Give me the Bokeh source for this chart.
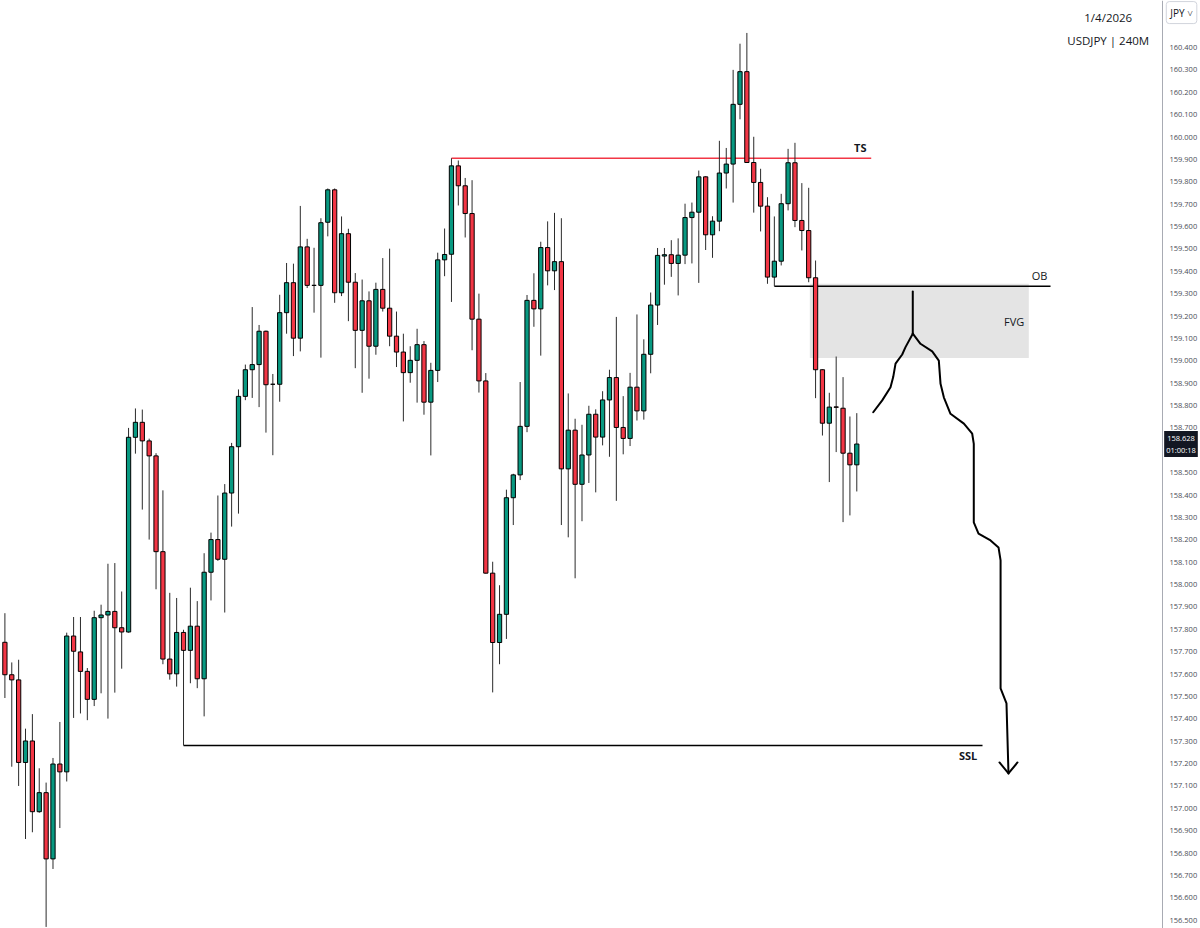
from bokeh.plotting import figure
from bokeh.models import (Range1d, FixedTicker, Label, NumeralTickFormatter, ColumnDataSource,
                          LinearAxis)
from bokeh.embed import file_html
from bokeh.resources import INLINE

# ---- candle data (USDJPY 240M) ----
opens = [157.742, 157.597, 157.574, 157.205, 157.301, 156.985, 157.070, 156.774, 157.198, 157.163,
         157.770, 157.699, 157.612, 157.487, 157.852, 157.864, 157.880, 157.807, 157.788, 158.658,
         158.725, 158.642, 158.575, 158.147, 157.667, 157.601, 157.786, 157.706, 157.814, 157.579,
         158.055, 158.201, 158.113, 158.409, 158.616, 158.841, 158.960, 158.983, 159.132, 158.895,
         158.895, 159.215, 159.349, 159.101, 159.509, 159.337, 159.337, 159.619, 159.764, 159.304,
         159.568, 159.351, 159.136, 159.268, 159.065, 159.319, 159.235, 159.110, 159.039, 158.947,
         159.002, 159.072, 158.815, 158.957, 159.451, 159.476, 159.871, 159.782, 159.658, 159.186,
         158.910, 158.051, 157.741, 157.867, 158.388, 158.490, 158.707, 159.270, 159.232, 159.506,
         159.402, 159.443, 158.517, 158.690, 158.448, 158.579, 158.761, 158.659, 158.825, 158.925,
         158.702, 158.653, 158.882, 158.776, 159.029, 159.249, 159.468, 159.474, 159.435, 159.472,
         159.640, 159.664, 159.822, 159.563, 159.624, 159.839, 159.879, 160.146, 160.292, 159.886,
         159.797, 159.691, 159.374, 159.445, 159.702, 159.885, 159.627, 159.582, 159.371, 158.960,
         158.721, 158.794, 158.788, 158.587, 158.535]
highs = [157.872, 157.652, 157.664, 157.356, 157.421, 157.179, 157.115, 157.225, 157.386, 157.785,
         157.855, 157.855, 157.627, 157.883, 157.910, 158.093, 158.096, 157.969, 158.700, 158.787,
         158.782, 158.652, 158.587, 158.421, 157.963, 157.940, 157.798, 157.986, 157.926, 158.140,
         158.232, 158.398, 158.449, 158.633, 158.872, 158.983, 159.240, 159.160, 159.135, 158.941,
         159.295, 159.437, 159.434, 159.692, 159.545, 159.505, 159.637, 159.770, 159.770, 159.645,
         159.590, 159.392, 159.363, 159.310, 159.349, 159.459, 159.501, 159.220, 159.121, 159.065,
         159.143, 159.088, 158.991, 159.483, 159.591, 159.905, 159.895, 159.817, 159.807, 159.300,
         158.945, 158.102, 157.997, 158.424, 158.495, 158.905, 159.294, 159.391, 159.532, 159.623,
         159.661, 159.637, 158.854, 158.741, 158.714, 158.799, 158.783, 158.864, 158.960, 159.196,
         158.842, 158.946, 159.207, 159.096, 159.305, 159.504, 159.504, 159.539, 159.547, 159.702,
         159.707, 159.850, 159.825, 159.646, 159.983, 159.951, 160.300, 160.417, 160.465, 160.001,
         159.858, 159.731, 159.645, 159.746, 159.947, 159.974, 159.794, 159.773, 159.448, 158.962,
         158.857, 159.019, 158.927, 158.751, 158.766]
lows = [157.493, 157.186, 157.100, 156.863, 156.893, 156.980, 156.470, 156.729, 156.912, 157.120,
        157.404, 157.424, 157.394, 157.457, 157.514, 157.401, 157.517, 157.624, 157.785, 158.585,
        158.335, 158.201, 157.979, 157.644, 157.575, 157.544, 157.281, 157.559, 157.537, 157.411,
        157.929, 158.106, 157.875, 158.259, 158.317, 158.824, 158.834, 158.793, 158.679, 158.578,
        158.817, 159.121, 159.021, 159.042, 159.325, 159.215, 159.014, 159.556, 159.259, 159.289,
        159.177, 158.967, 158.857, 158.920, 159.027, 159.220, 159.065, 158.972, 158.729, 158.902,
        158.813, 158.759, 158.577, 158.905, 159.378, 159.263, 159.694, 159.551, 159.047, 158.858,
        158.049, 157.518, 157.644, 157.757, 158.266, 158.467, 158.681, 159.152, 159.023, 159.337,
        159.316, 158.266, 158.211, 158.028, 158.283, 158.454, 158.412, 158.622, 158.571, 158.374,
        158.582, 158.619, 158.733, 158.737, 158.944, 159.160, 159.340, 159.375, 159.292, 159.432,
        159.435, 159.348, 159.495, 159.460, 159.579, 159.770, 159.707, 160.079, 159.884, 159.662,
        159.578, 159.344, 159.333, 159.426, 159.672, 159.597, 159.493, 159.351, 158.833, 158.666,
        158.458, 158.592, 158.279, 158.309, 158.416]
closes = [157.597, 157.574, 157.205, 157.301, 156.985, 157.070, 156.774, 157.198, 157.163, 157.770,
          157.702, 157.612, 157.487, 157.852, 157.864, 157.880, 157.807, 157.788, 158.658, 158.725,
          158.642, 158.575, 158.147, 157.667, 157.601, 157.786, 157.706, 157.814, 157.579, 158.055,
          158.201, 158.113, 158.409, 158.616, 158.841, 158.960, 158.983, 159.132, 158.893, 158.895,
          159.215, 159.349, 159.101, 159.509, 159.337, 159.337, 159.617, 159.764, 159.304, 159.568,
          159.351, 159.136, 159.268, 159.065, 159.319, 159.235, 159.110, 159.039, 158.947, 159.002,
          159.072, 158.815, 158.957, 159.451, 159.475, 159.871, 159.782, 159.658, 159.186, 158.910,
          158.051, 157.741, 157.867, 158.388, 158.490, 158.707, 159.270, 159.232, 159.506, 159.402,
          159.443, 158.517, 158.690, 158.448, 158.579, 158.761, 158.659, 158.825, 158.925, 158.702,
          158.653, 158.882, 158.776, 159.029, 159.249, 159.471, 159.474, 159.435, 159.472, 159.640,
          159.664, 159.822, 159.563, 159.624, 159.839, 159.879, 160.146, 160.292, 159.886, 159.797,
          159.691, 159.374, 159.445, 159.702, 159.885, 159.627, 159.582, 159.371, 158.960, 158.721,
          158.793, 158.792, 158.587, 158.535, 158.628]

last_price = 158.628
countdown = "01:00:18"
date_text = "1/4/2026"
symbol_text = "USDJPY | 240M"
currency = "JPY"
y_ticks = [round(156.5 + 0.1 * i, 1) for i in range(40)]

# ---- annotation levels (price) and spans (bar index) ----
ts_level = 159.905
ts_span = [65, 126.1]
ob_level = 159.333
ob_span = [112, 152.2]
fvg_top, fvg_bottom = 159.344, 159.012
fvg_span = [117.16, 149.04]
ssl_level = 157.281
ssl_span = [26, 142.3]

stem_x = [132.15, 132.15]
stem_y = [159.310, 159.121]
left_x = [132.15, 131.09, 130.61, 129.64, 129.30, 128.91, 127.70, 126.39]
left_y = [159.121, 159.061, 159.028, 158.987, 158.927, 158.882, 158.823, 158.770]
right_x = [132.15, 133.27, 134.98, 135.94, 136.19, 136.67, 137.64, 139.59, 140.80, 141.03,
           141.03, 141.72, 143.47, 144.63, 144.93, 144.93, 145.79, 146.08]
right_y = [159.121, 159.076, 159.042, 159.001, 158.897, 158.837, 158.763, 158.719, 158.674, 158.629,
           158.278, 158.228, 158.197, 158.166, 158.108, 157.536, 157.469, 157.156]
head_x = [144.77, 146.08, 147.39]
head_y = [157.205, 157.156, 157.205]

GREEN = "#089981"
RED = "#f23645"

SCALE_AT = 168.50  # bar-index position of the price scale line

idx = list(range(len(opens)))
src = ColumnDataSource(dict(
    x=idx,
    high=highs,
    low=lows,
    top=[max(o, c) for o, c in zip(opens, closes)],
    bottom=[min(o, c) for o, c in zip(opens, closes)],
    color=[GREEN if c >= o else RED for o, c in zip(opens, closes)],
))

p = figure(width=1200, height=928, output_backend="svg", toolbar_location=None,
           x_range=Range1d(-0.640, 174.03), y_range=Range1d(156.463, 160.610),
           x_axis_location=None, y_axis_location=None,
           min_border_left=0, min_border_top=0, min_border_bottom=0, min_border_right=0)
p.outline_line_color = None
p.grid.grid_line_color = None
p.background_fill_color = "white"
p.border_fill_color = "white"

ax = LinearAxis(fixed_location=SCALE_AT)
ax.ticker = FixedTicker(ticks=y_ticks)
ax.formatter = NumeralTickFormatter(format="0.000")
ax.major_tick_line_color = None
ax.minor_tick_line_color = None
ax.major_tick_out = 0
ax.major_tick_in = 0
ax.minor_tick_out = 0
ax.minor_tick_in = 0
ax.axis_line_color = "#a8abb3"
ax.major_label_text_font_size = "7.5px"
ax.major_label_text_font = "Open Sans"
ax.major_label_text_color = "#4a4d55"
ax.major_label_standoff = 7
p.add_layout(ax, "right")

# FVG zone
p.quad(left=[fvg_span[0]], right=[fvg_span[1]], top=[fvg_top], bottom=[fvg_bottom],
       fill_color="#e4e4e4", line_color=None)

# level lines
p.line(ts_span, [ts_level, ts_level], line_color=RED, line_width=1.6)
p.line(ob_span, [ob_level, ob_level], line_color="black", line_width=1.6)
p.line(ssl_span, [ssl_level, ssl_level], line_color="black", line_width=1.6)

# candles
p.segment(x0="x", y0="high", x1="x", y1="low", source=src, line_color="#2b2b2b", line_width=1)
p.vbar(x="x", width=0.62, top="top", bottom="bottom", source=src,
       fill_color="color", line_color="black", line_width=1)

# hand-drawn projection path
for xs, ys in [(stem_x, stem_y), (left_x, left_y), (right_x, right_y), (head_x, head_y)]:
    p.line(xs, ys, line_color="black", line_width=2, line_join="round", line_cap="round")

# labels
def lab(x, y, text, size="11px", bold=False, align="center", color="#131722"):
    p.add_layout(Label(x=x, y=y, text=text, text_font="Open Sans", text_font_size=size,
                       text_font_style="bold" if bold else "normal", text_align=align,
                       text_baseline="middle", text_color=color))

lab(124.5, 159.951, "TS", bold=True)
lab(150.6, 159.379, "OB")
lab(146.9, 159.177, "FVG")
lab(140.2, 157.236, "SSL", bold=True)
lab(160.6, 160.534, date_text, size="11.5px")
lab(160.6, 160.431, symbol_text, size="11.5px")

p.add_layout(Label(x=169.05, y=160.556, text=currency + " \u02c5", text_font="Open Sans",
                   text_font_size="10px", text_align="left", text_baseline="middle",
                   text_color="#131722", background_fill_color="white",
                   border_line_color="#d1d4dc", padding=4, border_radius=3, level="overlay"))
p.add_layout(Label(x=171.19, y=last_price, text=f"{last_price:.3f}\n{countdown}",
                   text_font="Open Sans", text_font_size="7.5px", text_align="center",
                   text_baseline="middle", text_color="white",
                   background_fill_color="#131722", padding=2, level="overlay"))

open("out.html", "w").write(file_html(p, INLINE))
